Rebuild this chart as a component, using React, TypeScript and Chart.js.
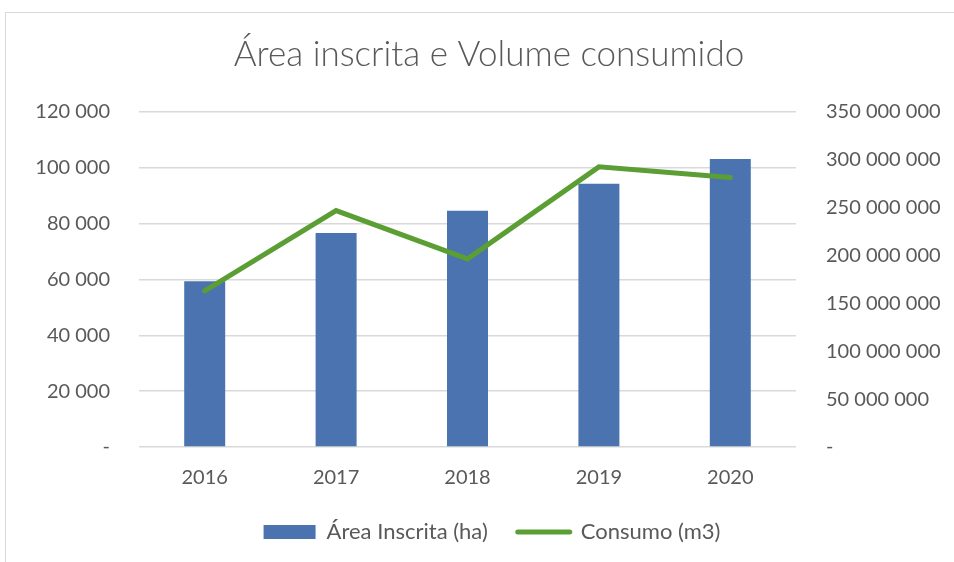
import React, { useEffect, useRef } from "react";
import { Chart, registerables } from "chart.js";

Chart.register(...registerables);

const years = ["2016", "2017", "2018", "2019", "2020"];
const areaInscrita = [59400, 76700, 84600, 94300, 103200];
const consumo = [163000000, 247000000, 196500000, 292700000, 281600000];
const leftMax = 120000;
const leftStep = 20000;
const rightMax = 350000000;
const rightStep = 50000000;

const FONT = "Lato, 'Open Sans', sans-serif";
const TEXT = "#595959";
const BLUE = "#4A73B0";
const GREEN = "#5B9E34";

function fmt(v: number): string {
  if (v === 0) return "-";
  return Math.round(v)
    .toString()
    .replace(/\B(?=(\d{3})+(?!\d))/g, " ");
}

const shiftBlocks = {
  id: "shiftBlocks",
  afterLayout(chart: any) {
    const l = chart.legend;
    if (l) {
      l.left += 15;
      l.right += 15;
    }
    const t = chart.titleBlock;
    if (t) {
      t.left += 12;
      t.right += 12;
    }
  },
};

export default function App() {
  const ref = useRef<HTMLCanvasElement>(null);
  useEffect(() => {
    if (!ref.current) return;
    const chart = new Chart(ref.current, {
      type: "bar",
      plugins: [shiftBlocks],
      data: {
        labels: years,
        datasets: [
          {
            type: "line",
            label: "Consumo (m3)",
            data: consumo,
            yAxisID: "y1",
            borderColor: GREEN,
            backgroundColor: GREEN,
            borderWidth: 5,
            borderCapStyle: "round",
            borderJoinStyle: "miter",
            pointRadius: 0,
            pointHoverRadius: 0,
            tension: 0,
            order: 0,
          } as any,
          {
            type: "bar",
            label: "Área Inscrita (ha)",
            data: areaInscrita,
            yAxisID: "y",
            backgroundColor: BLUE,
            borderWidth: 0,
            barPercentage: 1,
            categoryPercentage: 0.312,
            order: 1,
          },
        ],
      },
      options: {
        responsive: false,
        animation: false,
        layout: { padding: { left: 0, right: 0, top: 0, bottom: 9 } },
        plugins: {
          title: {
            display: true,
            text: "Área inscrita e Volume consumido",
            color: TEXT,
            font: { family: FONT, size: 35, weight: "300" as any },
            padding: { top: 34, bottom: 36 },
          },
          legend: {
            position: "bottom",
            labels: {
              color: TEXT,
              font: { family: FONT, size: 22 },
              usePointStyle: true,
              pointStyleWidth: 52,
              boxHeight: 14,
              padding: 30,
              generateLabels: (c: any) => {
                const ds = c.data.datasets;
                return [
                  {
                    text: ds[1].label,
                    fillStyle: BLUE,
                    strokeStyle: BLUE,
                    lineWidth: 0,
                    pointStyle: "rect",
                    datasetIndex: 1,
                    fontColor: TEXT,
                  },
                  {
                    text: ds[0].label,
                    fillStyle: GREEN,
                    strokeStyle: GREEN,
                    lineWidth: 5,
                    lineCap: "round",
                    pointStyle: "line",
                    datasetIndex: 0,
                    fontColor: TEXT,
                  },
                ];
              },
            },
          },
          tooltip: { enabled: false },
        },
        scales: {
          x: {
            grid: { display: false, drawTicks: false },
            border: { display: false },
            ticks: { color: TEXT, font: { family: FONT, size: 20 }, padding: 19 },
            afterFit: (s: any) => {
              s.height = 44;
            },
          },
          y: {
            position: "left",
            min: 0,
            max: leftMax,
            grid: { color: "#D9D9D9", lineWidth: 1.5, drawTicks: false },
            border: { display: false },
            ticks: {
              stepSize: leftStep,
              color: TEXT,
              font: { family: FONT, size: 20 },
              padding: 29,
              callback: (v: any) => fmt(Number(v)),
            },
            afterFit: (s: any) => {
              s.width = 139;
            },
          },
          y1: {
            position: "right",
            min: 0,
            max: rightMax,
            grid: { display: false, drawTicks: false },
            border: { display: false },
            ticks: {
              stepSize: rightStep,
              color: TEXT,
              font: { family: FONT, size: 20 },
              padding: 30,
              callback: (v: any) => fmt(Number(v)),
            },
            afterFit: (s: any) => {
              s.width = 158;
            },
          },
        },
      },
    });
    return () => chart.destroy();
  }, []);
  return (
    <div
      style={{
        position: "fixed",
        left: 0,
        top: 0,
        width: 954,
        height: 562,
        background: "#fff",
        overflow: "hidden",
      }}
    >
      <div
        style={{
          position: "absolute",
          left: 5,
          top: 12,
          width: 1000,
          height: 600,
          borderLeft: "1.5px solid #D9D9D9",
          borderTop: "1.5px solid #D9D9D9",
        }}
      />
      <canvas ref={ref} width={954} height={562} style={{ position: "absolute", left: 0, top: 0 }} />
    </div>
  );
}
